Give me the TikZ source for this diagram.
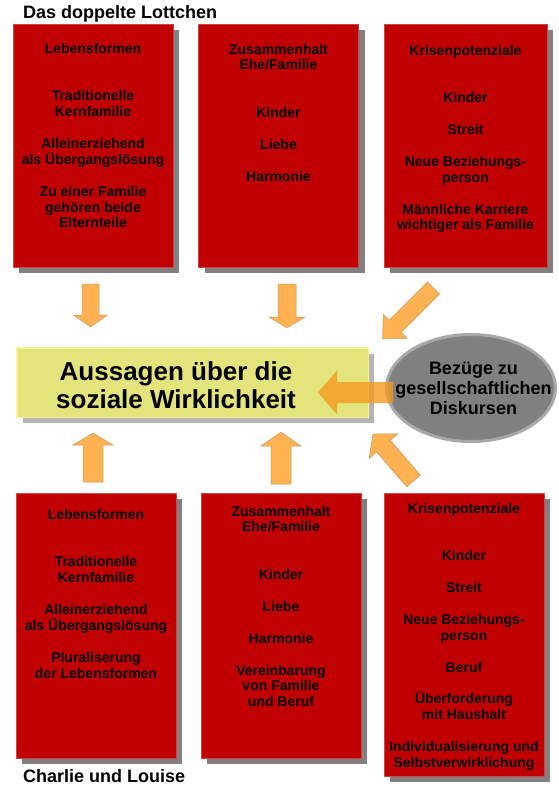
\documentclass[tikz,border=0pt]{standalone}
\usepackage{fontspec}
\setmainfont{Liberation Sans}
\usetikzlibrary{shapes.geometric,shadows}

\definecolor{boxrot}{RGB}{192,0,0}
\definecolor{boxrand}{RGB}{205,70,70}
\definecolor{schatten}{RGB}{128,128,128}
\definecolor{hellschatten}{RGB}{180,180,180}
\definecolor{aussagengelb}{RGB}{228,228,125}
\definecolor{gelbrand}{RGB}{245,245,150}
\definecolor{pfeilorange}{RGB}{255,178,82}
\definecolor{pfeilrand}{RGB}{200,150,100}
\definecolor{pfeilkraeftig}{RGB}{245,155,30}
\definecolor{diskursgrau}{RGB}{128,128,128}
\definecolor{diskursrand}{RGB}{168,168,168}

\newcommand{\kastenfont}{\bfseries\fontsize{14}{15.9}\selectfont}

\tikzset{
  rotbox/.style={draw=boxrand, fill=boxrot, line width=0.6pt, inner sep=0pt, minimum width=160pt,
    drop shadow={shadow xshift=6pt, shadow yshift=-6pt, fill=schatten, opacity=1}},
  kastentext/.style={align=center, inner sep=0pt, anchor=north, font=\kastenfont},
  titel/.style={anchor=base west, inner sep=0pt, font=\bfseries\fontsize{18}{21}\selectfont},
  aussagenbox/.style={fill=aussagengelb, draw=gelbrand, line width=1.5pt, inner sep=0pt,
    drop shadow={shadow xshift=6pt, shadow yshift=-6pt, fill=hellschatten, opacity=1}},
  pfeil/.style={fill=pfeilorange, draw=pfeilrand, line width=0.5pt},
  hauptpfeil/.style={fill=pfeilkraeftig, fill opacity=0.8, draw=none},
  pics/blockpfeil/.style args={#1/#2/#3/#4}{code={
    \path[pic actions] (0,-#2/2) -- (#1-#4,-#2/2) -- (#1-#4,-#3/2) -- (#1,0)
      -- (#1-#4,#3/2) -- (#1-#4,#2/2) -- (0,#2/2) -- cycle;}},
}

\begin{document}
\begin{tikzpicture}[x=1pt, y=-1pt]
  \fill[white] (0,0) rectangle (559,793);
  \useasboundingbox (0,0) rectangle (559,793);

  % Das doppelte Lottchen
  \node[titel] (lottTitel) at (23,18) {Das doppelte Lottchen};
  \node[rotbox, minimum height=243pt] (lottA) at (93,145.5) {};
  \node[rotbox, minimum height=243pt] (lottB) at (278.5,145.5) {};
  \node[rotbox, minimum height=243pt, minimum width=163pt] (lottC) at (465.5,145.5) {};
  \node[kastentext] (lottAtext) at ([yshift=-19pt]lottA.north) {Lebensformen\\[31.8pt]
    Traditionelle\\Kernfamilie\\[15.9pt]
    Alleinerziehend\\als Übergangslösung\\[15.9pt]
    Zu einer Familie\\gehören beide\\Elternteile};
  \node[kastentext] (lottBtext) at ([yshift=-20pt]lottB.north) {Zusammenhalt\\Ehe/Familie\\[31.8pt]
    Kinder\\[15.9pt]
    Liebe\\[15.9pt]
    Harmonie};
  \node[kastentext] (lottCtext) at ([yshift=-21pt]lottC.north) {Krisenpotenziale\\[31.8pt]
    Kinder\\[15.9pt]
    Streit\\[15.9pt]
    Neue Beziehungs-\\person\\[15.9pt]
    Männliche Karriere\\wichtiger als Familie};

  % Mitte
  \node[aussagenbox, minimum width=351.5pt, minimum height=69.5pt] (aussagen) at (192.5,382.5) {};
  \node[anchor=north, align=center, inner sep=0pt, font=\bfseries\fontsize{26}{28}\selectfont]
    (aussagenText) at (176,361) {Aussagen über die\\soziale Wirklichkeit};
  \node[ellipse, fill=diskursgrau, draw=diskursrand, line width=3pt, inner sep=0pt,
    minimum width=169pt, minimum height=107pt] (diskurs) at (471,388) {};
  \node[align=center, inner sep=0pt, font=\bfseries\fontsize{18}{20}\selectfont]
    (diskursText) at (473.5,388.5) {Bezüge zu\\gesellschaftlichen\\Diskursen};
  \pic[hauptpfeil, rotate=180] (pfeilDiskurs) at (393,392.5) {blockpfeil=75/21/44/19};

  % Pfeile
  \pic[pfeil, rotate=-90] (pfeilA) at (90.5,284) {blockpfeil=43/17/34/12};
  \pic[pfeil, rotate=-90] (pfeilB) at (287,284) {blockpfeil=44/18/36/11};
  \pic[pfeil, rotate=225] (pfeilC) at (433.5,288) {blockpfeil=72/17/34/18};
  \pic[pfeil, rotate=90] (pfeilD) at (93,482) {blockpfeil=49/20/40/12};
  \pic[pfeil, rotate=90] (pfeilE) at (281,484) {blockpfeil=52/20/40/14};
  \pic[pfeil, rotate=130.75] (pfeilF) at (413.5,481) {blockpfeil=62/18/38/16};

  % Charlie und Louise
  \node[rotbox, minimum height=265pt] (charlieA) at (96,625.5) {};
  \node[rotbox, minimum height=265pt] (charlieB) at (281,625.5) {};
  \node[rotbox, minimum height=283pt] (charlieC) at (464,634.5) {};
  \node[kastentext] (charlieAtext) at ([yshift=-16pt]charlieA.north) {Lebensformen\\[31.8pt]
    Traditionelle\\Kernfamilie\\[15.9pt]
    Alleinerziehend\\als Übergangslösung\\[15.9pt]
    Pluraliserung\\der Lebensformen};
  \node[kastentext] (charlieBtext) at ([yshift=-13pt]charlieB.north) {Zusammenhalt\\Ehe/Familie\\[31.8pt]
    Kinder\\[15.9pt]
    Liebe\\[15.9pt]
    Harmonie\\[15.9pt]
    Vereinbarung\\von Familie\\und Beruf};
  \node[kastentext] (charlieCtext) at ([yshift=-10pt]charlieC.north) {Krisenpotenziale\\[31.8pt]
    Kinder\\[15.9pt]
    Streit\\[15.9pt]
    Neue Beziehungs-\\person\\[15.9pt]
    Beruf\\[15.9pt]
    Überforderung\\mit Haushalt\\[15.9pt]
    Individualisierung und\\Selbstverwirklichung};
  \node[titel] (charlieTitel) at (23,782) {Charlie und Louise};
\end{tikzpicture}
\end{document}
